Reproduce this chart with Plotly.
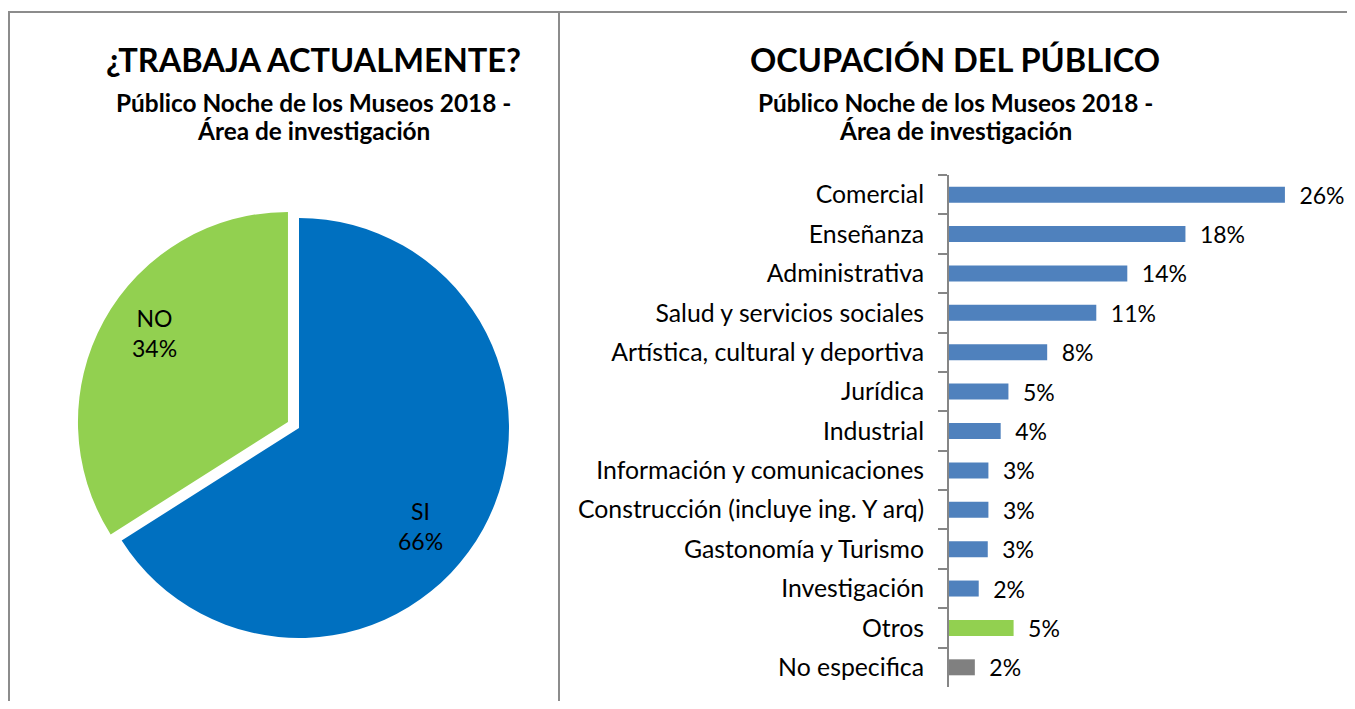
import plotly.graph_objects as go

# ---------------- data ----------------
pie_labels = ["SI", "NO"]
pie_values = [66, 34]

occupations = [
    "Comercial", "Enseñanza", "Administrativa", "Salud y servicios sociales",
    "Artística, cultural y deportiva", "Jurídica", "Industrial",
    "Información y comunicaciones", "Construcción (incluye ing. Y arq)",
    "Gastonomía y Turismo", "Investigación", "Otros", "No especifica",
]
occupation_pct = [26.0, 18.3, 13.8, 11.4, 7.6, 4.6, 4.0, 3.05, 3.05, 3.0, 2.3, 5.0, 2.0]

title_left = "¿TRABAJA ACTUALMENTE?"
title_right = "OCUPACIÓN DEL PÚBLICO"
subtitle_1 = "Público Noche de los Museos 2018 -"
subtitle_2 = "Área de investigación"

# ---------------- styles ----------------
pie_colors = ["#0070C0", "#92D050"]
bar_colors = ["#4F81BD"] * 11 + ["#92D050", "#808080"]
FONT = "Lato"
W, H = 1339, 693  # figure size (page has 8px body margin)


def fx(xp):  # page x -> paper fraction
    return (xp - 8) / W


def fy(yp):  # page y -> paper fraction
    return 1 - (yp - 8) / H


fig = go.Figure()

# pie
pull = 0.06
cx, cy, r = 299, 428, 210
half = r * (1 + pull)
fig.add_trace(go.Pie(
    labels=pie_labels, values=pie_values, sort=False, direction="clockwise",
    rotation=0, pull=[0, pull],
    marker=dict(colors=pie_colors, line=dict(width=0)),
    textinfo="none",
    domain=dict(x=[fx(cx - half), fx(cx + half)], y=[fy(cy + half), fy(cy - half)]),
    showlegend=False, hoverinfo="label+percent",
))

# pie labels
total = sum(pie_values)
pie_label_pos = [(420, 526), (154, 333)]
for lab, val, (lx, ly) in zip(pie_labels, pie_values, pie_label_pos):
    fig.add_annotation(x=fx(lx), y=fy(ly), xref="paper", yref="paper",
                       text=f"{lab}<br>{val / total * 100:.0f}%", showarrow=False,
                       xanchor="center", yanchor="middle", align="center",
                       font=dict(family=FONT, size=23, color="black"))

# bars
bar_left, bar_right = 949, 1345
px_per_pct = 12.92
fig.add_trace(go.Bar(
    y=occupations, x=occupation_pct, orientation="h",
    marker=dict(color=bar_colors, line=dict(width=0)),
    texttemplate="\u2002%{x:.0f}%", textposition="outside",
    constraintext="none", cliponaxis=False,
    textfont=dict(family=FONT, size=23, color="black"),
    showlegend=False, xaxis="x", yaxis="y",
))

fig.update_layout(
    width=W, height=H, margin=dict(l=0, r=0, t=0, b=0),
    paper_bgcolor="white", plot_bgcolor="white",
    font=dict(family=FONT, color="black"),
    bargap=0.594,
    xaxis=dict(domain=[fx(bar_left), fx(bar_right)],
               range=[0, (bar_right - bar_left) / px_per_pct],
               showgrid=False, zeroline=False, showline=False,
               showticklabels=False, ticks="", fixedrange=True),
    yaxis=dict(domain=[fy(687), fy(175)], type="category", autorange="reversed",
               showgrid=False, zeroline=False, showline=True,
               linecolor="#868686", linewidth=2,
               ticks="outside", tickson="boundaries", ticklen=9,
               tickcolor="#868686", tickwidth=2, ticklabelstandoff=18,
               tickfont=dict(family=FONT, size=24.8, color="black")),
)

# frame lines
line_style = dict(color="#8C8C8C", width=2)
fig.add_shape(type="line", xref="paper", yref="paper", x0=fx(8), x1=1.05,
              y0=fy(12), y1=fy(12), line=line_style)
fig.add_shape(type="line", xref="paper", yref="paper", x0=fx(9), x1=fx(9),
              y0=fy(12), y1=-0.05, line=line_style)
fig.add_shape(type="line", xref="paper", yref="paper", x0=fx(559), x1=fx(559),
              y0=fy(12), y1=-0.05, line=line_style)

# titles
for xc, title in [(313, title_left), (955, title_right)]:
    fig.add_annotation(x=fx(xc), y=fy(60), xref="paper", yref="paper",
                       text=f"<b>{title}</b>", showarrow=False,
                       xanchor="center", yanchor="middle",
                       font=dict(family=FONT, size=32.6, color="black"))
    fig.add_annotation(x=fx(xc), y=fy(102), xref="paper", yref="paper",
                       text=f"<b>{subtitle_1}</b>", showarrow=False,
                       xanchor="center", yanchor="middle",
                       font=dict(family=FONT, size=24.4, color="black"))
    fig.add_annotation(x=fx(xc), y=fy(131), xref="paper", yref="paper",
                       text=f"<b>{subtitle_2}</b>", showarrow=False,
                       xanchor="center", yanchor="middle",
                       font=dict(family=FONT, size=24.4, color="black"))

fig.write_html("out.html")
